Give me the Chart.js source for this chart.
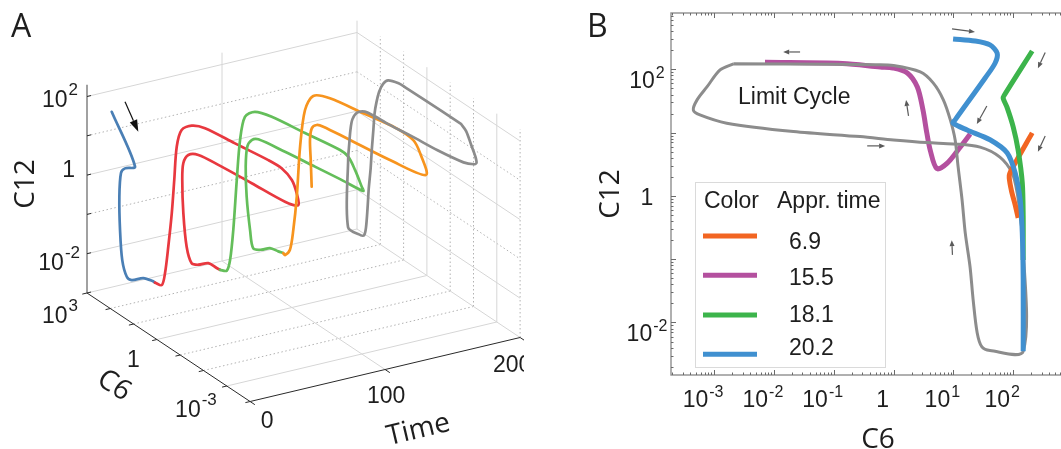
<!DOCTYPE html>
<html>
<head>
<meta charset="utf-8">
<script src="https://cdn.jsdelivr.net/npm/chart.js@4.4.1/dist/chart.umd.min.js"></script>
<style>
  html, body { margin:0; padding:0; background:#ffffff; overflow:hidden; }
  body { width:1061px; height:449px; position:relative; }
  #boxA { position:absolute; left:0; top:0; width:524px; height:449px; }
  #boxB { position:absolute; left:560px; top:0; width:520px; height:449px; }
  canvas { display:block; }
</style>
</head>
<body>
<div id="boxA"><canvas id="chartA" width="524" height="449"></canvas></div>
<div id="boxB"><canvas id="chartB" width="520" height="449"></canvas></div>
<script>
// ====================== DATA ======================
// Panel A: trajectory pieces (Time, C6, C12)
const timeBlue = [0, 8.8, 10.9, 11.0, 11.2, 11.7, 13.0, 15.3, 16.7, 21.0, 25.0, 26.2];
const c6Blue   = [87, 28, 100, 151, 182, 182, 174, 151, 112, 63, 40, 40];
const c12Blue  = [107, 5.7, 3.0, 1.94, 0.45, 0.063, 0.0107, 0.0041, 0.0037, 0.0048, 0.0044, 0.0040];

const timeRed = [26.2, 28.6, 29.3, 30.9, 31.7, 32.2, 32.8, 33.0, 33.2, 38.4, 42.3, 46.8, 49.3, 50.7, 51.8, 52.1, 53.5, 54.7, 55.0, 55.7, 56.9, 57.5, 57.8, 58.6, 60.7, 63.2, 66.1, 70.0, 71.9, 72.6];
const c6Red   = [40, 28, 22.4, 20, 15.8, 13.2, 11.2, 7.1, 2.7, 1.45, 0.126, 0.0085, 0.0032, 0.0014, 0.001, 0.00089, 0.004, 0.126, 3.55, 28, 89, 158, 182, 182, 174, 148, 112, 71, 40, 31.6];
const c12Red  = [0.0040, 0.0038, 0.0082, 0.040, 0.30, 2.26, 16.7, 53, 100, 100, 100, 100, 87, 59, 30, 15.8, 10.4, 7.7, 6.0, 4.7, 2.9, 1.41, 0.50, 0.070, 0.0096, 0.0037, 0.0036, 0.0044, 0.0040, 0.0039];

const timeGreen = [72.6, 75.9, 77.5, 78.7, 79.0, 79.7, 79.9, 82.1, 83.3, 88.1, 93.3, 94.3, 96.7, 100.8, 102.8, 104.6, 105.0, 105.3, 106.2, 106.5, 107.0, 107.2, 107.9, 110.1, 111.1, 113.0, 114.8, 117.6, 119.5];
const c6Green   = [31.6, 25.1, 22.4, 19.1, 14.1, 11.2, 7.1, 3.55, 0.79, 0.056, 0.0035, 0.00178, 0.00126, 0.00112, 0.00126, 0.0158, 0.2, 4.0, 63, 126, 209, 251, 251, 240, 200, 112, 63, 40, 31.6];
const c12Green  = [0.0039, 0.0038, 0.0072, 0.044, 0.91, 10.2, 48, 81, 107, 107, 107, 93, 47, 17, 12.2, 8.7, 6.6, 4.8, 3.3, 2.4, 1.32, 0.38, 0.065, 0.0089, 0.0032, 0.0036, 0.0048, 0.0045, 0.0043];

const timeOrange = [119.5, 119.9, 122.7, 123.5, 124.3, 124.7, 126.1, 127.9, 129.9, 135.8, 141.6, 145.0, 145.7, 148.4, 148.5, 149.2, 150.0, 150.3, 150.6, 151.0, 151.9, 152.6];
const c6Orange   = [31.6, 28, 25.1, 20, 15.8, 12, 8.9, 5.0, 1.26, 0.102, 0.0083, 0.0025, 0.0014, 0.00112, 0.040, 3.16, 35.5, 71, 120, 151, 158, 158];
const c12Orange  = [0.0043, 0.0040, 0.0054, 0.0186, 0.141, 2.92, 27.5, 76, 110, 110, 110, 83, 48, 13.8, 8.1, 5.1, 3.83, 3.19, 2.12, 0.97, 0.29, 0.060];

// Limit cycle (C6, C12): drawn in panel B and, at a fixed time, in panel A
const c6Limit  = [0.0021, 0.1, 0.5, 1.0, 2.8, 4.6, 6.8, 8.9, 10.7, 12, 14, 15.8, 19, 21.4, 25, 30, 41, 147, 145, 131, 117, 96, 60, 28, 10, 3.6, 1.0, 0.276, 0.0212, 0.00163, 0.00058, 0.00045, 0.00052, 0.00076, 0.00126, 0.0021];
const c12Limit = [122, 120, 118, 115, 91, 61, 33, 15.9, 7.7, 2.9, 0.86, 0.26, 0.076, 0.023, 0.0069, 0.0041, 0.0036, 0.0035, 0.2, 0.47, 1.1, 2.3, 4.1, 5.9, 6.63, 6.95, 7.67, 8.65, 10.4, 14.1, 19.0, 22.8, 32.9, 52.7, 97.8, 122];
const timeLimit = 179;

// Panel B: approach trajectories (C6, C12)
const c6App69  = [208, 100, 86, 93, 108, 121];
const c12App69 = [9.9, 2.9, 2.1, 1.24, 0.72, 0.45];
const c6App155  = [19.1, 13, 7.9, 5.3, 4.1, 3.6, 3.1, 2.5, 1.7, 0.98, 0.6, 0.14, 0.0071];
const c12App155 = [9.5, 5.9, 3.3, 2.7, 5.3, 9.9, 22.9, 52.7, 87.7, 105, 109, 124, 129];
const c6App181  = [208, 71, 68, 79, 100, 121, 142, 147, 147];
const c12App181 = [195, 39, 35, 25, 12.3, 5.3, 1.6, 0.47, 0.097];
const c6App202  = [9.9, 23, 41, 54, 50, 34, 10.7, 9.9, 17, 41, 79, 108, 131, 142, 147, 147];
const c12App202 = [302, 280, 243, 180, 126, 73, 15.9, 14.2, 11, 7.7, 4.8, 2.3, 0.86, 0.26, 0.047, 0.0035];
const approachTimes = ['6.9', '15.5', '18.1', '20.2'];

// Direction arrows in panel B: [C6 from, C12 from, C6 to, C12 to]
const arrowsB = [
  [9.5, 435, 23, 390], [0.0274, 188, 0.0143, 188], [1.78, 18.4, 1.62, 32.9],
  [0.363, 6.17, 0.724, 6.17], [9.66, 0.117, 9.4, 0.2], [36.3, 26.4, 24.7, 13.7],
  [343, 184, 259, 104], [343, 8.87, 259, 5.0]
];

// Axes / ticks
const timeTicksA = [0, 100, 200];
const c6TicksA   = [1e3, 1, 1e-3];
const c12TicksA  = [1e-2, 1, 1e2];
const c6DecadesA  = [1e-4, 1e-3, 1e-2, 1e-1, 1, 1e1, 1e2, 1e3];
const c12DecadesA = [1e-3, 1e-2, 1e-1, 1, 1e1, 1e2];
const T_MIN = 0, T_MAX = 200, C6_MIN = 1e-4, C6_MAX = 1e3, C12_MIN = 1e-3, C12_MAX = 200;
const c6TicksB  = [1e-3, 1e-2, 1e-1, 1, 1e1, 1e2];
const c12TicksB = [1e-2, 1, 1e2];

// ====================== STYLE ======================
const COL_A = {blue:'#4a7fb5', red:'#e8383f', green:'#64be5a', orange:'#f7941e', gray:'#8c8c8c'};
const COL_B = {orange:'#f26522', magenta:'#b4509f', green:'#3cb44b', blue:'#4090d0', gray:'#8c8c8c'};
const FONT_TICK = '23px "Liberation Sans", Arial, sans-serif';
const FONT_EXP_A = '17px "Liberation Sans", Arial, sans-serif';
const FONT_EXP_B = '16px "Liberation Sans", Arial, sans-serif';
const FONT_TITLE = '28px "Open Sans", "Noto Sans", sans-serif';
const FONT_PANEL = '32px "Open Sans", "Liberation Sans", sans-serif';
const FONT_LEG = '23px "Liberation Sans", Arial, sans-serif';
const TEXT_COL = '#1e1e1e';

// ====================== HELPERS ======================
// 3-D view of panel A (orthographic)
const ORIGIN_A = {x: 87, y: 293};        // Time 0, C6 max, C12 min
const TIME_STEP = {x: 1.35, y: -0.32};   // per time unit
const C6_STEP = {x: -23.3, y: -15.5};    // per decade of C6
const C12_STEP = {x: 0, y: -39.3};       // per decade of C12
function projA(t, c6, c12) {
  const a = Math.log10(c6) - Math.log10(C6_MAX);
  const b = Math.log10(c12) - Math.log10(C12_MIN);
  return {x: ORIGIN_A.x + TIME_STEP.x * t + C6_STEP.x * a,
          y: ORIGIN_A.y + TIME_STEP.y * t + C6_STEP.y * a + C12_STEP.y * b};
}
function drawPow(ctx, e, x, baseline, align, expFont, raise) {
  ctx.fillStyle = TEXT_COL;
  ctx.textBaseline = 'alphabetic';
  if (e === 0) { ctx.font = FONT_TICK; ctx.textAlign = align; ctx.fillText('1', x, baseline); return; }
  ctx.font = FONT_TICK; const wb = ctx.measureText('10').width;
  const es = String(e);
  ctx.font = expFont; const we = ctx.measureText(es).width;
  const total = wb + 1 + we;
  const left = align === 'center' ? x - total / 2 : (align === 'right' ? x - total : x);
  ctx.textAlign = 'left';
  ctx.font = FONT_TICK; ctx.fillText('10', left, baseline);
  ctx.font = expFont; ctx.fillText(es, left + wb + 1, baseline - raise);
}
function rotText(ctx, text, cx, cy, angle, font, capH) {
  ctx.save();
  ctx.translate(cx, cy); ctx.rotate(angle);
  ctx.font = font; ctx.fillStyle = TEXT_COL; ctx.textAlign = 'center'; ctx.textBaseline = 'alphabetic';
  ctx.fillText(text, 0, capH / 2);
  ctx.restore();
}
function arrow(ctx, x1, y1, x2, y2, color, lw, hl, hw) {
  const ang = Math.atan2(y2 - y1, x2 - x1);
  const bx = x2 - hl * Math.cos(ang), by = y2 - hl * Math.sin(ang);
  ctx.strokeStyle = color; ctx.fillStyle = color; ctx.lineWidth = lw;
  ctx.beginPath(); ctx.moveTo(x1, y1); ctx.lineTo(bx, by); ctx.stroke();
  ctx.beginPath();
  ctx.moveTo(x2, y2);
  ctx.lineTo(bx + hw / 2 * Math.sin(ang), by - hw / 2 * Math.cos(ang));
  ctx.lineTo(bx - hw / 2 * Math.sin(ang), by + hw / 2 * Math.cos(ang));
  ctx.closePath(); ctx.fill();
}

// ====================== PANEL A ======================
const dsA = [];
function addA(points, opts) {
  dsA.push(Object.assign({data: points, showLine: true, pointRadius: 0, borderWidth: 1, tension: 0, fill: false}, opts));
}
const GRID_SOLID = '#d6d6d6', GRID_DOT = '#b2b2b2';
const same = (a, b) => Math.abs(Math.log10(a) - Math.log10(b)) < 1e-6;
const major6 = v => c6TicksA.some(m => same(m, v));
const major12 = v => c12TicksA.some(m => same(m, v));
const gridStyle = major => major ? {borderColor: GRID_SOLID, borderWidth: 1, order: 100}
                                 : {borderColor: GRID_DOT, borderWidth: 1, borderDash: [1.5, 2.5], order: 101};
// floor
c6DecadesA.forEach(c6 => { if (!same(c6, C6_MIN)) addA([projA(T_MIN, c6, C12_MIN), projA(T_MAX, c6, C12_MIN)], gridStyle(major6(c6))); });
timeTicksA.forEach(t => { if (t !== T_MIN) addA([projA(t, C6_MAX, C12_MIN), projA(t, C6_MIN, C12_MIN)], gridStyle(true)); });
// back wall (C6 max)
c12DecadesA.forEach(c12 => { if (!same(c12, C12_MIN)) addA([projA(T_MIN, C6_MAX, c12), projA(T_MAX, C6_MAX, c12)], gridStyle(major12(c12))); });
timeTicksA.forEach(t => { if (t !== T_MIN) addA([projA(t, C6_MAX, C12_MIN), projA(t, C6_MAX, C12_MAX)], gridStyle(true)); });
// side wall (Time max)
c12DecadesA.forEach(c12 => { if (!same(c12, C12_MIN)) addA([projA(T_MAX, C6_MAX, c12), projA(T_MAX, C6_MIN, c12)], gridStyle(major12(c12))); });
c6DecadesA.forEach(c6 => { if (!same(c6, C6_MAX)) addA([projA(T_MAX, c6, C12_MIN), projA(T_MAX, c6, C12_MAX)], gridStyle(major6(c6))); });
// axes
addA([projA(T_MIN, C6_MAX, C12_MIN), projA(T_MIN, C6_MIN, C12_MIN)], {borderColor: '#2a2a2a', borderWidth: 1, order: 50});
addA([projA(T_MIN, C6_MIN, C12_MIN), projA(T_MAX, C6_MIN, C12_MIN)], {borderColor: '#2a2a2a', borderWidth: 1, order: 50});
addA([projA(T_MIN, C6_MAX, C12_MIN), projA(T_MIN, C6_MAX, C12_MAX)], {borderColor: '#8a8a8a', borderWidth: 1.6, order: 50});
// trajectories
const line3D = (ts, c6s, c12s) => ts.map((t, i) => projA(t, c6s[i], c12s[i]));
const curveA = (color, order) => ({borderColor: color, borderWidth: 2.7, tension: 0.3, order: order, borderCapStyle: 'round', borderJoinStyle: 'round'});
addA(line3D(timeBlue, c6Blue, c12Blue), curveA(COL_A.blue, 4));
addA(line3D(timeRed, c6Red, c12Red), curveA(COL_A.red, 3));
addA(line3D(timeGreen, c6Green, c12Green), curveA(COL_A.green, 2));
addA(line3D(timeOrange, c6Orange, c12Orange), curveA(COL_A.orange, 1));
addA(c6Limit.map((c6, i) => projA(timeLimit, c6, c12Limit[i])), curveA(COL_A.gray, 0));

const decorA = {
  id: 'decorA',
  afterDraw(chart) {
    const ctx = chart.ctx, xs = chart.scales.x, ys = chart.scales.y;
    const px = p => ({x: xs.getPixelForValue(p.x), y: ys.getPixelForValue(p.y)});
    ctx.save();
    // tick marks
    ctx.strokeStyle = '#2a2a2a'; ctx.lineWidth = 1;
    c12DecadesA.forEach(c12 => { const a = px(projA(T_MIN, C6_MAX, c12)), b = px(projA(T_MIN + 3, C6_MAX, c12));
      ctx.beginPath(); ctx.moveTo(a.x, a.y); ctx.lineTo(b.x, b.y); ctx.stroke(); });
    c6DecadesA.forEach(c6 => { const a = px(projA(T_MIN, c6, C12_MIN)), b = px(projA(T_MIN - 3.5, c6, C12_MIN));
      ctx.beginPath(); ctx.moveTo(a.x, a.y); ctx.lineTo(b.x, b.y); ctx.stroke(); });
    timeTicksA.forEach(t => { const a = px(projA(t, C6_MIN, C12_MIN)), b = px(projA(t, C6_MIN / 1.6, C12_MIN));
      ctx.beginPath(); ctx.moveTo(a.x, a.y); ctx.lineTo(b.x, b.y); ctx.stroke(); });
    // tick labels
    const c12dx = [-7, -12, -9], c12dy = [16.3, 2, 10.5];
    c12TicksA.forEach((v, i) => { const p = px(projA(T_MIN, C6_MAX, v));
      drawPow(ctx, Math.round(Math.log10(v)), p.x + c12dx[i], p.y + c12dy[i], 'right', FONT_EXP_A, 12); });
    const c6dx = [-9, -17, -10], c6dy = [30, 27.5, 31];
    c6TicksA.forEach((v, i) => { const p = px(projA(T_MIN, v, C12_MIN));
      drawPow(ctx, Math.round(Math.log10(v)), p.x + c6dx[i], p.y + c6dy[i], 'right', FONT_EXP_A, 12); });
    const tdx = [17, 1, -8], tdy = [26, 33, 34];
    timeTicksA.forEach((t, i) => { const p = px(projA(t, C6_MIN, C12_MIN));
      ctx.font = FONT_TICK; ctx.fillStyle = TEXT_COL; ctx.textAlign = 'center'; ctx.textBaseline = 'alphabetic';
      ctx.fillText(String(t), p.x + tdx[i], p.y + tdy[i]); });
    // axis titles
    rotText(ctx, 'C12', 24, 184, -Math.PI / 2, FONT_TITLE, 20);
    rotText(ctx, 'C6', 115, 384, Math.atan2(-C6_STEP.y, -C6_STEP.x), FONT_TITLE, 20);
    rotText(ctx, 'Time', 418, 428, Math.atan2(TIME_STEP.y, TIME_STEP.x), FONT_TITLE, 20);
    // panel letter
    ctx.font = FONT_PANEL; ctx.fillStyle = TEXT_COL; ctx.textAlign = 'left'; ctx.textBaseline = 'alphabetic';
    ctx.fillText('A', 11, 37);
    // start arrow
    const s = px(projA(timeBlue[0], c6Blue[0], c12Blue[0]));
    arrow(ctx, s.x + 13.3, s.y - 10, s.x + 26.6, s.y + 20, '#111', 1.2, 12, 8);
    ctx.restore();
  }
};

new Chart(document.getElementById('chartA'), {
  type: 'scatter',
  data: {datasets: dsA},
  options: {
    responsive: false, animation: false, events: [],
    layout: {padding: 0},
    plugins: {legend: {display: false}, tooltip: {enabled: false}},
    scales: {
      x: {type: 'linear', min: 0, max: 524, display: false},
      y: {type: 'linear', min: 0, max: 449, reverse: true, display: false}
    }
  },
  plugins: [decorA]
});

// ====================== PANEL B ======================
const xy = (xs, ys) => xs.map((v, i) => ({x: v, y: ys[i]}));
const curveB = (data, color, width, order) => ({data: data, showLine: true, pointRadius: 0, borderColor: color,
  borderWidth: width, tension: 0.3, fill: false, order: order, borderCapStyle: 'butt', borderJoinStyle: 'round'});
const dsB = [
  curveB(xy(c6App202, c12App202), COL_B.blue, 5, 0),
  curveB(xy(c6App181, c12App181), COL_B.green, 5, 1),
  curveB(xy(c6App69, c12App69), COL_B.orange, 5, 2),
  curveB(xy(c6Limit, c12Limit), COL_B.gray, 3, 3),
  curveB(xy(c6App155, c12App155), COL_B.magenta, 5, 4)
];
const legendColors = [COL_B.orange, COL_B.magenta, COL_B.green, COL_B.blue];

const decorB = {
  id: 'decorB',
  afterDraw(chart) {
    const ctx = chart.ctx, ca = chart.chartArea, xs = chart.scales.x, ys = chart.scales.y;
    ctx.save();
    // frame
    ctx.strokeStyle = '#8f8f8f'; ctx.lineWidth = 1.4;
    ctx.strokeRect(ca.left, ca.top, ca.right - ca.left, ca.bottom - ca.top);
    // inward ticks
    ctx.strokeStyle = '#6a6a6a'; ctx.lineWidth = 1;
    const seg = (a, b, c, d) => { ctx.beginPath(); ctx.moveTo(a, b); ctx.lineTo(c, d); ctx.stroke(); };
    for (let e = -5; e <= 3; e++) {
      for (let k = 1; k <= 9; k++) {
        const v = k * Math.pow(10, e);
        const len = k === 1 ? 5 : 2.5;
        if (v >= xs.min && v <= xs.max) {
          const p = Math.round(xs.getPixelForValue(v)) + 0.5;
          seg(p, ca.bottom, p, ca.bottom - len); seg(p, ca.top, p, ca.top + len);
        }
        if (v >= ys.min && v <= ys.max) {
          const p = Math.round(ys.getPixelForValue(v)) + 0.5;
          seg(ca.left, p, ca.left + len, p); seg(ca.right, p, ca.right - len, p);
        }
      }
    }
    // tick labels
    c6TicksB.forEach(v => drawPow(ctx, Math.round(Math.log10(v)), xs.getPixelForValue(v) - 11, 407, 'center', FONT_EXP_B, 10));
    c12TicksB.forEach(v => { const e = Math.round(Math.log10(v));
      drawPow(ctx, e, 87, ys.getPixelForValue(v) + (e === 0 ? 9 : 19), 'center', FONT_EXP_B, 10); });
    // axis titles & panel letter
    rotText(ctx, 'C12', 49, 194, -Math.PI / 2, FONT_TITLE, 20);
    rotText(ctx, 'C6', 318, 438, 0, FONT_TITLE, 20);
    ctx.font = FONT_PANEL; ctx.fillStyle = TEXT_COL; ctx.textAlign = 'left'; ctx.textBaseline = 'alphabetic';
    ctx.fillText('B', 27, 37);
    // annotation
    ctx.font = FONT_LEG; ctx.fillText('Limit Cycle', 178, 104);
    // direction arrows
    arrowsB.forEach(a => arrow(ctx, xs.getPixelForValue(a[0]), ys.getPixelForValue(a[1]),
      xs.getPixelForValue(a[2]), ys.getPixelForValue(a[3]), '#5a5a5a', 1.2, 6, 5));
    // legend table
    ctx.fillStyle = '#ffffff'; ctx.fillRect(135.5, 182.5, 190, 185);
    ctx.strokeStyle = '#dadada'; ctx.lineWidth = 1; ctx.strokeRect(135.5, 182.5, 190, 185);
    ctx.fillStyle = TEXT_COL; ctx.font = FONT_LEG; ctx.textAlign = 'left';
    ctx.fillText('Color', 144, 208);
    ctx.fillText('Appr. time', 217, 208);
    const lineY = [236, 275.3, 315, 354.3], textY = [249, 285, 321.7, 355];
    approachTimes.forEach((s, i) => {
      ctx.strokeStyle = legendColors[i]; ctx.lineWidth = 5;
      ctx.beginPath(); ctx.moveTo(143, lineY[i]); ctx.lineTo(197, lineY[i]); ctx.stroke();
      ctx.fillStyle = TEXT_COL; ctx.fillText(s, 229, textY[i]);
    });
    ctx.restore();
  }
};

new Chart(document.getElementById('chartB'), {
  type: 'scatter',
  data: {datasets: dsB},
  options: {
    responsive: false, animation: false, events: [],
    layout: {padding: {left: 111, top: 13, right: 7, bottom: 74}},
    plugins: {legend: {display: false}, tooltip: {enabled: false}},
    scales: {
      x: {type: 'logarithmic', min: Math.pow(10, -3.72), max: 1000, display: false},
      y: {type: 'logarithmic', min: Math.pow(10, -2.83), max: Math.pow(10, 2.89), display: false}
    }
  },
  plugins: [decorB]
});
</script>
</body>
</html>
